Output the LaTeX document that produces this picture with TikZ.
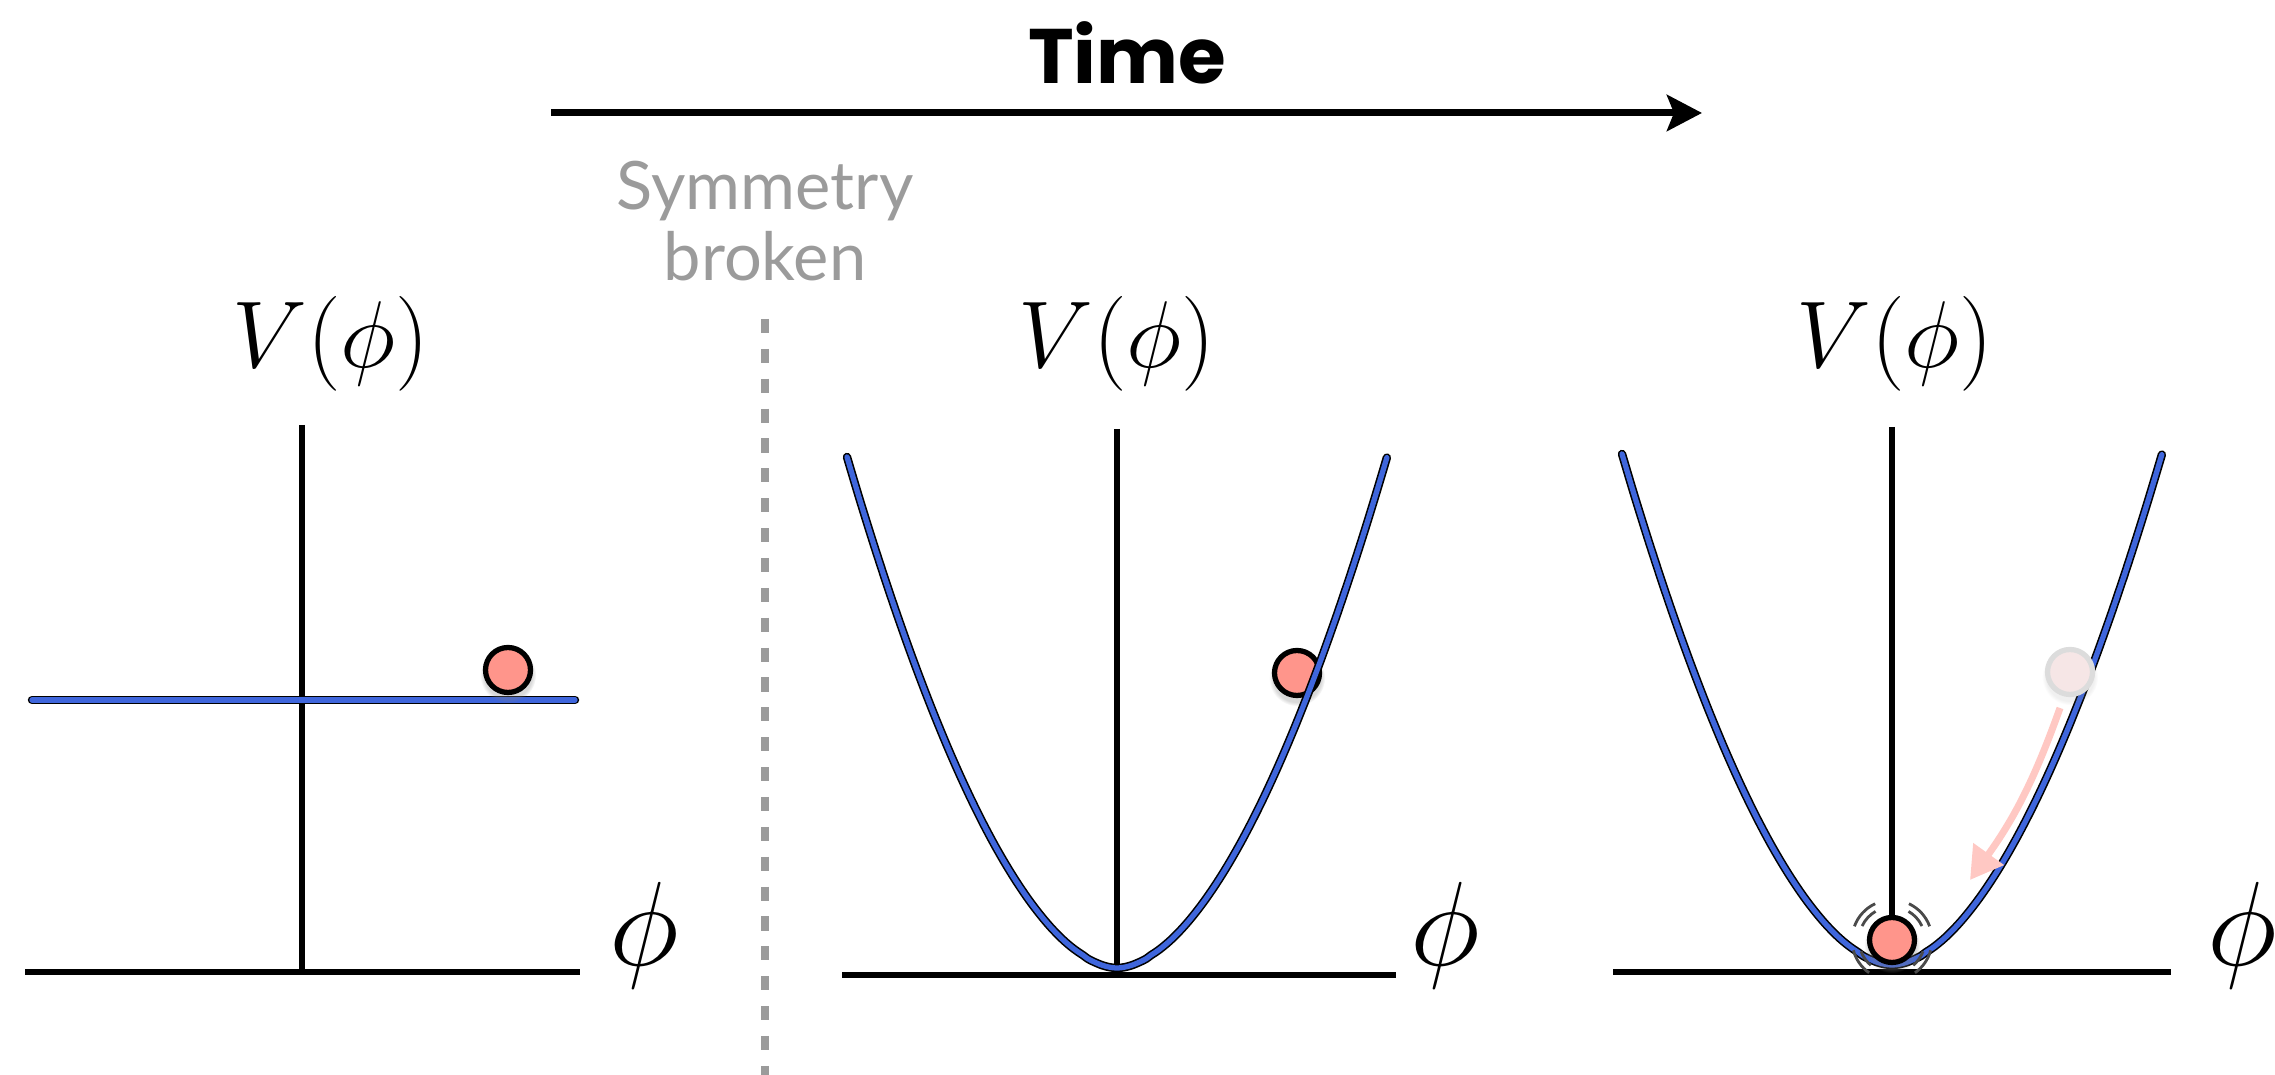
\documentclass[tikz,border=0pt]{standalone}
\usepackage{fontspec}
\usepackage{graphicx}
\usepackage{xcolor}
\usepackage{tikz}
\usetikzlibrary{arrows.meta,positioning,shadows}

\newfontfamily\timefont{Poppins}
\newfontfamily\notefont{Lato}

\definecolor{potblue}{HTML}{3F66DC}
\definecolor{ballred}{HTML}{FF958B}
\definecolor{fadepink}{HTML}{F6E6E6}
\definecolor{fadegray}{HTML}{DCDCDC}
\definecolor{rollpink}{HTML}{FFC8C3}
\definecolor{notegray}{HTML}{9B9B9B}
\definecolor{shakegray}{HTML}{4A4A4A}

% math is capped at 24.88pt, so scale it up
\newcommand{\potlabel}{\scalebox{1.085}{$V(\phi)$}}
\newcommand{\fieldlabel}{\scalebox{1.37}{$\phi$}}

\begin{document}
\begin{tikzpicture}[
  axis/.style={line width=1.6pt},
  potential/.style={draw=black, line width=0.45pt, double=potblue, double distance=1.5pt, line cap=round},
  ball/.style={circle, draw=black, line width=1.5pt, fill=ballred, minimum size=4.5mm, inner sep=0pt,
    circular drop shadow={shadow xshift=0mm, shadow yshift=-0.4mm, shadow scale=1.25, opacity=0.3}},
  oldball/.style={circle, draw=fadegray, line width=1.5pt, fill=fadepink, minimum size=4.5mm, inner sep=0pt,
    circular drop shadow={shadow xshift=0mm, shadow yshift=-0.4mm, shadow scale=1.25, opacity=0.12}},
  vlabel/.style={font=\fontsize{24.88}{30}\selectfont, inner sep=0pt},
  philabel/.style={font=\fontsize{24.88}{30}\selectfont, inner sep=0pt},
  arrow/.style={-{Stealth[length=3.5mm, width=3.6mm, inset=0.7mm]}, line width=2pt},
  roll/.style={-{Triangle[length=3.2mm, width=3.6mm]}, line width=2pt, draw=rollpink},
  cut/.style={draw=notegray, line width=2.3pt, dash pattern=on 4pt off 4.5pt},
  shake/.style={draw=shakegray, line width=0.8pt}
]
\useasboundingbox (0,0) rectangle (22.75,10.75);

% time axis
\node[font=\timefont\bfseries\fontsize{22}{26}\selectfont, anchor=base, inner sep=0pt] (time) at (11.27,9.91) {Time};
\coordinate (tstart) at (5.51,9.62);
\coordinate (tend) at (17.02,9.62);
\draw[arrow] (tstart) -- (tend);

% symmetry breaking
\node[font=\notefont\fontsize{19}{20}\selectfont, text=notegray, align=center, inner sep=0pt] (broken) at (7.65,8.54) {Symmetry\\broken};
\coordinate (cuttop) at (7.65,7.56);
\coordinate (cutbot) at (7.65,0);
\draw[cut] (cuttop) -- (cutbot);

% panel 1: flat potential
\draw[axis] (3.02,6.50) -- (3.02,1.03);
\draw[axis] (0.25,1.03) -- (5.80,1.03);
\draw[potential] (0.32,3.75) -- (5.75,3.75);
\node[ball] (ball1) at (5.08,4.05) {};
\node[vlabel] (v1) at (3.31,7.31) {\potlabel};
\node[philabel] (phi1) at (6.44,1.39) {\fieldlabel};

% panel 2: well, ball on the slope
\draw[axis] (11.17,6.46) -- (11.17,1.00);
\draw[axis] (8.42,1.00) -- (13.96,1.00);
\node[ball] (ball2) at (12.97,4.02) {};
\draw[potential, shift={(11.17,1.07)}] plot[domain=-2.70:2.70, samples=120, smooth] (\x, {5.11*(abs(\x)/2.70)^1.8});
\node[vlabel] (v2) at (11.17,7.31) {\potlabel};
\node[philabel] (phi2) at (14.45,1.39) {\fieldlabel};

% panel 3: ball settled at the minimum
\draw[axis] (18.92,6.48) -- (18.92,1.10);
\draw[axis] (16.13,1.03) -- (21.71,1.03);
\draw[potential, shift={(18.92,1.10)}] plot[domain=-2.70:2.70, samples=120, smooth] (\x, {5.11*(abs(\x)/2.70)^1.8});
\node[oldball] (ball3old) at (20.70,4.03) {};
\node[ball] (ball3) at (18.92,1.35) {};
\foreach \a/\b in {115/160, 20/65, 195/235, 305/345} {
  \draw[shake] ([shift={(\a:0.40)}]ball3.center) arc[start angle=\a, end angle=\b, radius=0.40];
  \draw[shake] ([shift={(\a+5:0.33)}]ball3.center) arc[start angle=\a+5, end angle=\b-5, radius=0.33];
}
\coordinate (rollstart) at (20.60,3.67);
\coordinate (rollend) at (19.70,1.95);
\draw[roll] (rollstart) to[bend left=8] (rollend);
\node[vlabel] (v3) at (18.95,7.31) {\potlabel};
\node[philabel] (phi3) at (22.42,1.39) {\fieldlabel};

\end{tikzpicture}
\end{document}
